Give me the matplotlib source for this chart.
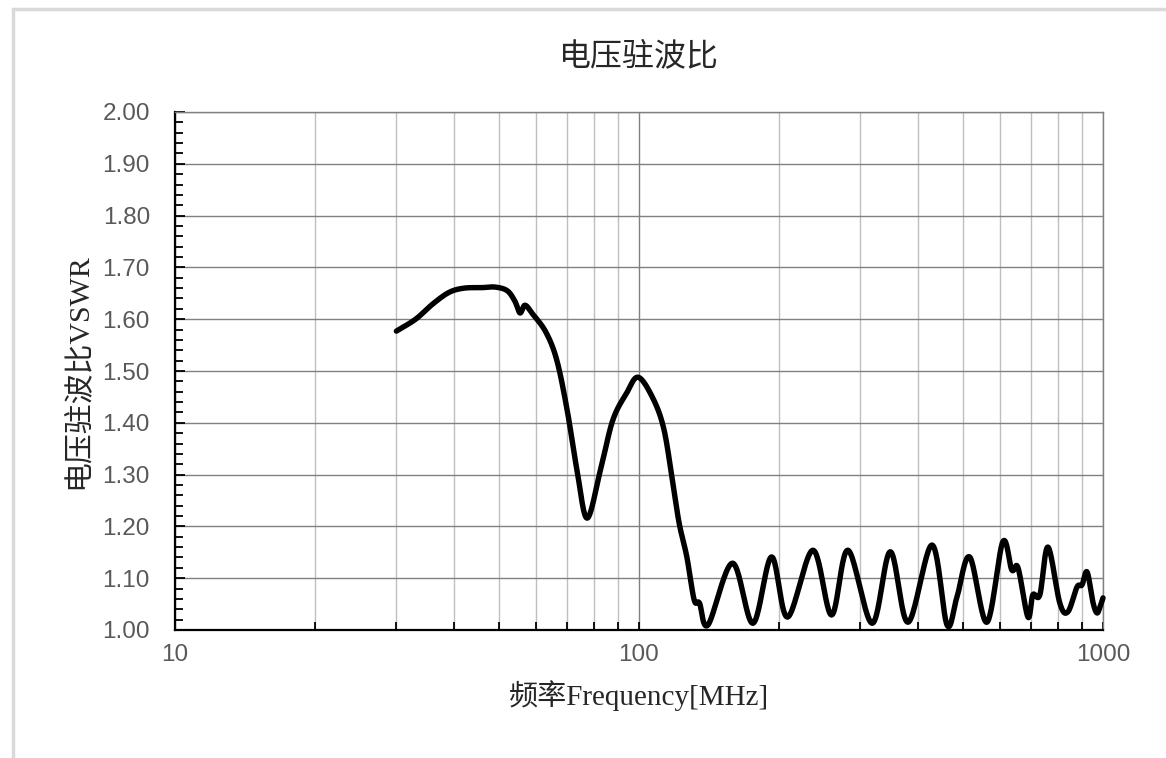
import numpy as np
import matplotlib
matplotlib.use("Agg")
import matplotlib.pyplot as plt
from matplotlib.ticker import LogLocator, MultipleLocator, FixedLocator, NullFormatter
from matplotlib.patches import Rectangle

# 读图估计的 VSWR 曲线 (频率 MHz, 驻波比)
freq = [30, 33, 36, 39, 42, 46, 49, 52, 54, 55.4, 56.8, 59, 63, 66.5, 70, 73.5, 77.3,
        82.6, 87.8, 94, 99.5, 106.8, 113, 118, 122, 126.8, 131.5, 135, 140.9,
        159, 176, 193, 209, 237, 260, 282, 318, 348, 380, 428, 461, 484, 516, 562,
        608, 636, 656, 689, 706, 731, 761, 807, 840, 879, 901, 924, 951, 970, 985, 1000]
vswr = [1.577, 1.60, 1.63, 1.652, 1.660, 1.661, 1.662, 1.655, 1.635, 1.612, 1.627,
        1.610, 1.575, 1.521, 1.425, 1.309, 1.216,
        1.309, 1.405, 1.457, 1.488, 1.45, 1.39, 1.29, 1.207, 1.141, 1.058, 1.052, 1.010,
        1.129, 1.013, 1.141, 1.025, 1.154, 1.029, 1.154, 1.013, 1.151, 1.015, 1.164,
        1.010, 1.062, 1.141, 1.015,
        1.170, 1.116, 1.120, 1.025, 1.068, 1.068, 1.160, 1.052, 1.035, 1.083, 1.087, 1.112,
        1.054, 1.033, 1.044, 1.062]

xticks = [10, 100, 1000]
xtick_labels = ["10", "100", "1000"]
yticks = np.round(np.arange(1.0, 2.001, 0.1), 2)

SERIF = ["Liberation Serif", "Noto Sans CJK SC"]
TICKC = "#595959"


def catmull(x, y, n=24):
    # Catmull-Rom 平滑, 参数化插值
    x = np.asarray(x); y = np.asarray(y)
    X = np.r_[2 * x[0] - x[1], x, 2 * x[-1] - x[-2]]
    Y = np.r_[2 * y[0] - y[1], y, 2 * y[-1] - y[-2]]
    ox, oy = [], []
    t = np.linspace(0, 1, n, endpoint=False)
    for i in range(1, len(X) - 2):
        for arr, out in ((X, ox), (Y, oy)):
            p0, p1, p2, p3 = arr[i - 1], arr[i], arr[i + 1], arr[i + 2]
            out.extend(0.5 * ((2 * p1) + (-p0 + p2) * t + (2 * p0 - 5 * p1 + 4 * p2 - p3) * t ** 2
                              + (-p0 + 3 * p1 - 3 * p2 + p3) * t ** 3))
    ox.append(x[-1]); oy.append(y[-1])
    return np.array(ox), np.array(oy)


fig = plt.figure(figsize=(11.66, 7.58), dpi=100)
fig.patches.append(Rectangle((13 / 1166, -0.1), 1.2, 1.1 - 9 / 758, transform=fig.transFigure,
                             fill=False, edgecolor="#D9D9D9", linewidth=2.5))
ax = fig.add_axes([175 / 1166, 1 - 630 / 758, 928 / 1166, 518 / 758])

sx, sy = catmull(np.log10(freq), vswr)
ax.plot(10 ** sx, sy, color="black", linewidth=3.9, solid_capstyle="round",
        solid_joinstyle="round", zorder=3, clip_on=False)

ax.set_xscale("log")
ax.set_xlim(10, 1000)
ax.set_ylim(1.0, 2.0)
ax.xaxis.set_major_locator(FixedLocator(xticks))
ax.set_xticklabels(xtick_labels)
ax.xaxis.set_minor_locator(LogLocator(base=10, subs=np.arange(2, 10)))
ax.xaxis.set_minor_formatter(NullFormatter())
ax.set_yticks(yticks)
ax.set_yticklabels([f"{v:.2f}" for v in yticks])
ax.yaxis.set_minor_locator(MultipleLocator(0.02))

ax.grid(which="major", axis="both", color="#808080", linewidth=1.0, zorder=0)
ax.grid(which="minor", axis="x", color="#BFBFBF", linewidth=1.0, zorder=0)

for s in ("top", "right"):
    ax.spines[s].set_color("#808080")
    ax.spines[s].set_linewidth(1.0)
for s in ("left", "bottom"):
    ax.spines[s].set_color("black")
    ax.spines[s].set_linewidth(1.6)

ax.tick_params(axis="both", which="both", direction="in", color="black", width=1.3)
ax.tick_params(axis="y", which="major", length=7, pad=18)
ax.tick_params(axis="y", which="minor", length=6)
ax.tick_params(axis="x", which="major", length=6, pad=10)
ax.tick_params(axis="x", which="minor", length=6)
ax.tick_params(axis="both", which="major", labelsize=17.5, labelcolor=TICKC)
for lab in ax.get_xticklabels() + ax.get_yticklabels():
    lab.set_fontfamily("Liberation Sans")

ax.set_title("电压驻波比", fontsize=23, family=SERIF, color="#262626", pad=34)
ax.set_xlabel("频率Frequency[MHz]", fontsize=21, family=SERIF, color="#262626", labelpad=10)
ax.set_ylabel("电压驻波比VSWR", fontsize=21.5, family=SERIF, color="#262626", labelpad=8)

fig.savefig("out.png", dpi=100)
